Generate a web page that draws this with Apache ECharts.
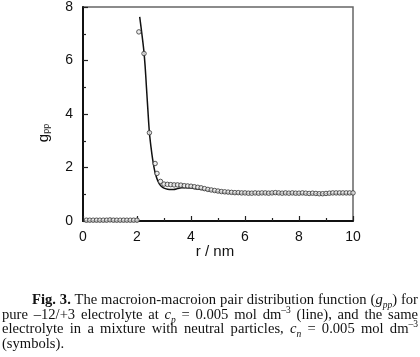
<!DOCTYPE html>
<html>
<head>
<meta charset="utf-8">
<script src="https://cdn.jsdelivr.net/npm/echarts@6/dist/echarts.min.js"></script>
<style>
html,body{margin:0;padding:0;background:#fff;}
#wrap{position:relative;width:420px;height:357px;overflow:hidden;}
#chart{position:absolute;left:0;top:0;width:420px;height:357px;}
#cap{position:absolute;left:2px;top:292px;width:416px;font-family:"Liberation Serif","Times New Roman",serif;font-size:14.6px;line-height:14.6px;color:#111;}
#cap div{text-align:justify;text-align-last:justify;white-space:nowrap;}
#cap div.l1{padding-left:30px;}
#cap div.last{text-align:left;text-align-last:left;}
#cap sub,#cap sup{font-size:9.5px;line-height:0;}
</style>
</head>
<body>
<div id="wrap">
<div id="chart"></div>
<div id="cap">
<div class="l1"><b>Fig. 3.</b> The macroion-macroion pair distribution function (<i>g<sub>pp</sub></i>) for</div>
<div>pure –12/+3 electrolyte at <i>c<sub>p</sub></i> = 0.005 mol dm<sup>–3</sup> (line), and the same</div>
<div>electrolyte in a mixture with neutral particles, <i>c<sub>n</sub></i> = 0.005 mol dm<sup>–3</sup></div>
<div class="last">(symbols).</div>
</div>
</div>
<script>
// Line (pure electrolyte)
const lineR = [2.10, 2.18, 2.25, 2.30, 2.35, 2.40, 2.46, 2.52, 2.58, 2.64, 2.70, 2.78, 2.86, 2.95, 3.05, 3.20, 3.35, 3.50, 3.65, 3.80, 4.00, 4.25, 4.50, 4.75, 5.00, 5.25, 5.50, 5.75, 6.00, 6.50, 7.00, 7.50, 8.00, 8.50, 9.00, 9.50, 10.00];
const lineG = [7.63, 7.00, 6.40, 5.80, 5.00, 4.20, 3.30, 2.75, 2.30, 1.95, 1.70, 1.48, 1.34, 1.26, 1.21, 1.18, 1.18, 1.21, 1.24, 1.24, 1.23, 1.20, 1.17, 1.13, 1.09, 1.06, 1.04, 1.03, 1.03, 1.02, 1.03, 1.03, 1.02, 1.02, 1.02, 1.02, 1.02];
// Symbols (mixture with neutral particles)
const symR = [0.125, 0.25, 0.375, 0.5, 0.625, 0.75, 0.875, 1.0, 1.125, 1.25, 1.375, 1.5, 1.625, 1.75, 1.875, 2.0,
  2.07, 2.26, 2.46, 2.67, 2.74, 2.87, 3.0, 3.125, 3.25, 3.375, 3.5, 3.625, 3.75, 3.875, 4.0, 4.125, 4.25, 4.375, 4.5, 4.625, 4.75, 4.875, 5.0, 5.125, 5.25, 5.375, 5.5, 5.625, 5.75, 5.875, 6.0,
  6.125, 6.25, 6.375, 6.5, 6.625, 6.75, 6.875, 7.0, 7.125, 7.25, 7.375, 7.5, 7.625, 7.75, 7.875, 8.0, 8.125, 8.25, 8.375, 8.5, 8.625, 8.75, 8.875, 9.0, 9.125, 9.25, 9.375, 9.5, 9.625, 9.75, 9.875, 10.0];
const symG = [0.03, 0.03, 0.03, 0.03, 0.03, 0.03, 0.03, 0.04, 0.03, 0.03, 0.03, 0.03, 0.03, 0.03, 0.03, 0.03,
  7.07, 6.26, 3.30, 2.15, 1.78, 1.48, 1.38, 1.37, 1.36, 1.35, 1.35, 1.34, 1.32, 1.31, 1.30, 1.28, 1.26, 1.24, 1.21, 1.18, 1.16, 1.14, 1.12, 1.10, 1.09, 1.08, 1.07, 1.06, 1.06, 1.05, 1.05,
  1.04, 1.04, 1.05, 1.04, 1.05, 1.05, 1.04, 1.05, 1.06, 1.05, 1.04, 1.05, 1.04, 1.05, 1.04, 1.04, 1.05, 1.04, 1.03, 1.04, 1.03, 1.02, 1.02, 1.03, 1.04, 1.05, 1.05, 1.05, 1.05, 1.05, 1.05, 1.05];
const xTicks = [0, 2, 4, 6, 8, 10];
const yTicks = [0, 2, 4, 6, 8];

const chart = echarts.init(document.getElementById('chart'), null, {renderer: 'canvas'});
const lbl = {fontFamily: 'Liberation Sans, Arial, sans-serif', fontSize: 14, color: '#111'};
chart.setOption({
  animation: false,
  backgroundColor: '#fff',
  grid: {left: 83, right: 67, top: 5, bottom: 136, show: true, borderColor: '#666', borderWidth: 1.5, backgroundColor: 'transparent'},
  xAxis: {
    type: 'value', min: 0, max: 10, interval: 2,
    axisLine: {lineStyle: {color: '#111', width: 2}},
    axisTick: {inside: true, length: 5, lineStyle: {color: '#222', width: 1.2}},
    minorTick: {show: true, splitNumber: 2, length: 3, lineStyle: {color: '#222', width: 1.2}},
    splitLine: {show: false},
    axisLabel: Object.assign({margin: 9, formatter: v => xTicks.includes(v) ? String(v) : ''}, lbl)
  },
  yAxis: {
    type: 'value', min: 0, max: 8, interval: 2,
    axisLine: {lineStyle: {color: '#111', width: 2}},
    axisTick: {inside: true, length: 5, lineStyle: {color: '#222', width: 1.2}},
    minorTick: {show: true, splitNumber: 2, length: 3, lineStyle: {color: '#222', width: 1.2}},
    splitLine: {show: false},
    axisLabel: Object.assign({margin: 10, formatter: v => yTicks.includes(v) ? String(v) : ''}, lbl)
  },
  graphic: [
    {type: 'text', x: 44, y: 133, rotation: Math.PI / 2,
      style: {text: '{g|g}{s|pp}', align: 'center', verticalAlign: 'middle',
        rich: {g: {fontFamily: 'Liberation Sans, Arial, sans-serif', fontSize: 15, fill: '#111'},
               s: {fontFamily: 'Liberation Sans, Arial, sans-serif', fontSize: 9, fill: '#111', padding: [6, 0, 0, 0]}}}},
    {type: 'text', x: 215, y: 252,
      style: {text: 'r / nm', fontFamily: 'Liberation Sans, Arial, sans-serif', fontSize: 15, fill: '#111', align: 'center', verticalAlign: 'middle'}}
  ],
  series: [
    {type: 'line', data: lineR.map((r, i) => [r, lineG[i]]), smooth: 0.3, symbol: 'none',
      lineStyle: {color: '#111', width: 1.5}, z: 2},
    {type: 'scatter', data: symR.map((r, i) => [r, symG[i]]), symbol: 'circle', symbolSize: 4.5,
      itemStyle: {color: '#e8e8e8', borderColor: '#333', borderWidth: 1}, z: 3}
  ]
});
</script>
</body>
</html>
